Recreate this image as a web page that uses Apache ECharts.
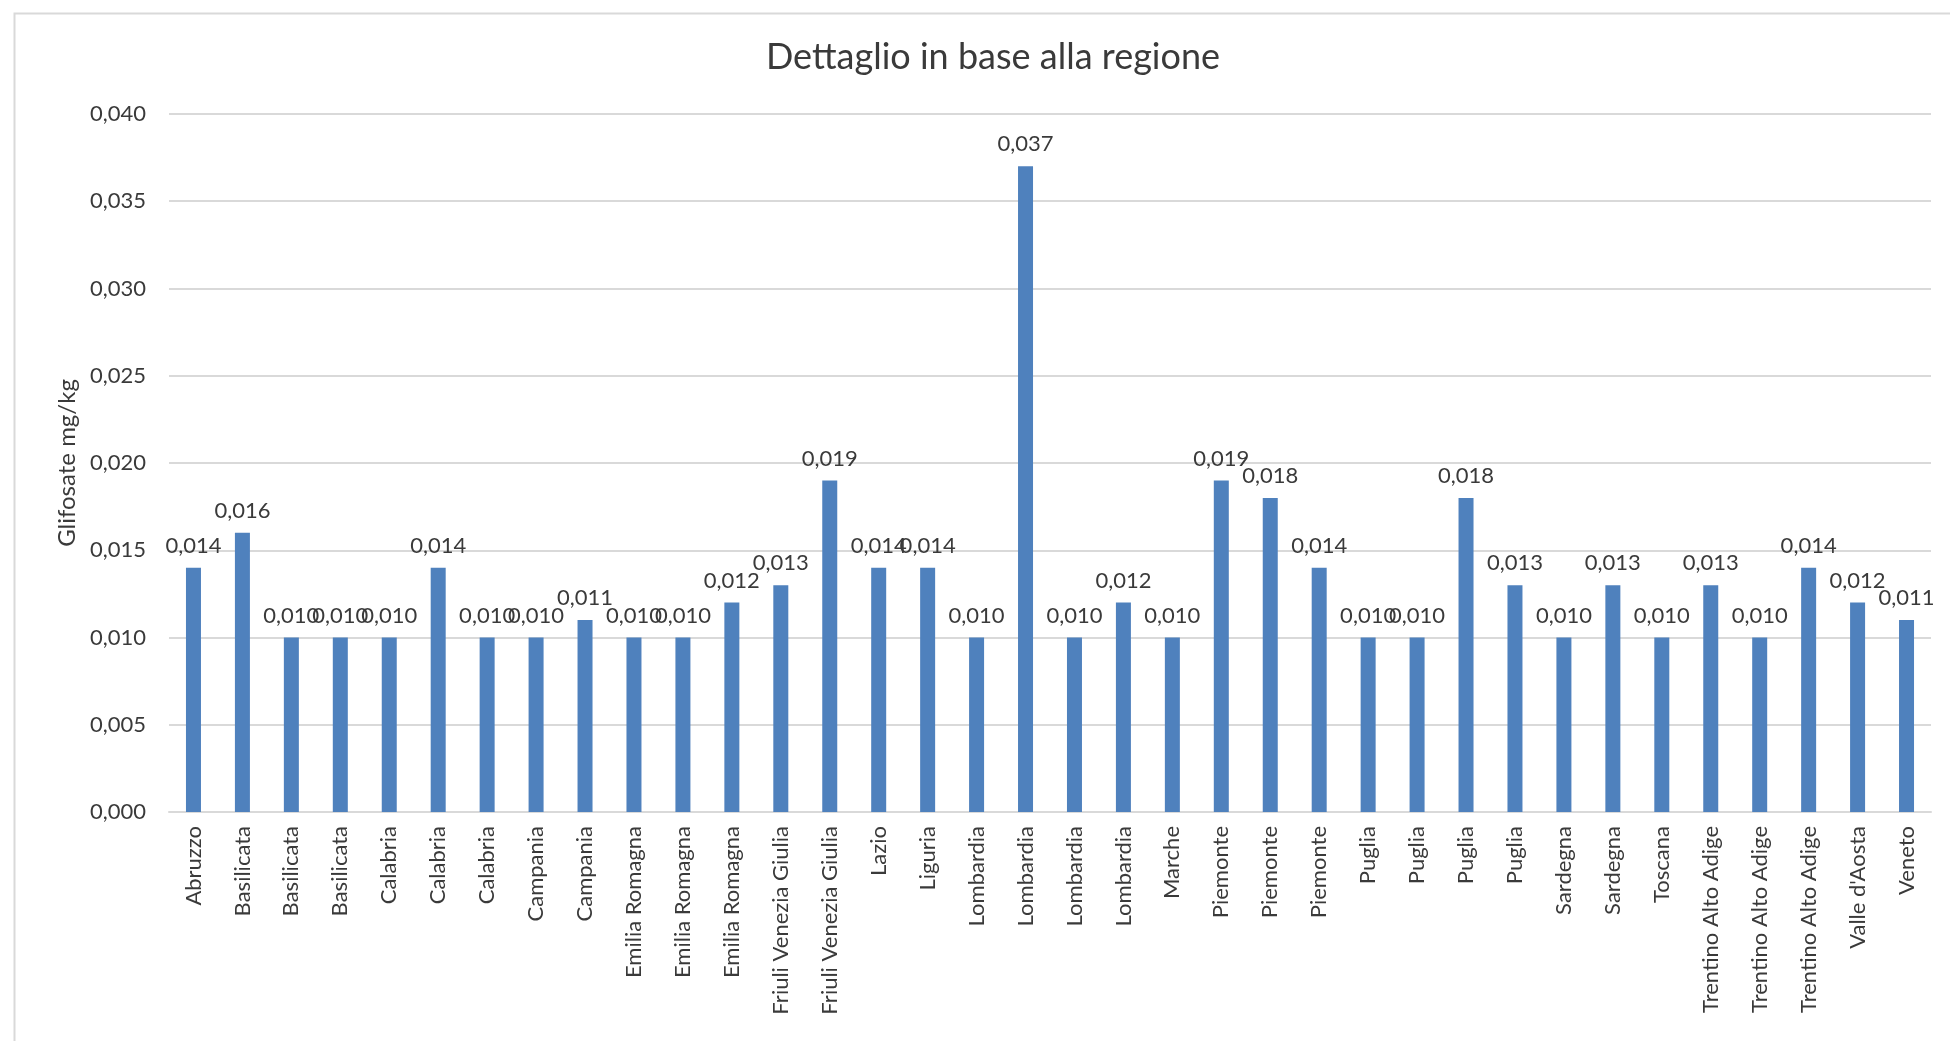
<!DOCTYPE html>
<html>
<head>
<meta charset="utf-8">
<script src="https://cdn.jsdelivr.net/npm/echarts@6/dist/echarts.min.js"></script>
<style>
html,body{margin:0;padding:0;background:#fff;}
#chart{width:1950px;height:1041px;}
</style>
</head>
<body>
<div id="chart"></div>
<script>
const titleText = 'Dettaglio in base alla regione';
const yAxisName = 'Glifosate mg/kg';
const categories = [
  'Abruzzo','Basilicata','Basilicata','Basilicata','Calabria','Calabria','Calabria',
  'Campania','Campania','Emilia Romagna','Emilia Romagna','Emilia Romagna',
  'Friuli Venezia Giulia','Friuli Venezia Giulia','Lazio','Liguria',
  'Lombardia','Lombardia','Lombardia','Lombardia','Marche',
  'Piemonte','Piemonte','Piemonte','Puglia','Puglia','Puglia','Puglia',
  'Sardegna','Sardegna','Toscana','Trentino Alto Adige','Trentino Alto Adige',
  'Trentino Alto Adige',"Valle d'Aosta",'Veneto'
];
const values = [
  0.014,0.016,0.010,0.010,0.010,0.014,0.010,
  0.010,0.011,0.010,0.010,0.012,
  0.013,0.019,0.014,0.014,
  0.010,0.037,0.010,0.012,0.010,
  0.019,0.018,0.014,0.010,0.010,0.018,0.013,
  0.010,0.013,0.010,0.013,0.010,
  0.014,0.012,0.011
];
const yMin = 0, yMax = 0.040, yStep = 0.005;

const fmt = v => v.toFixed(3).replace('.', ',');
const FONT = 'Lato';
const TXT = '#3a3a3a';

const chart = echarts.init(document.getElementById('chart'));
chart.setOption({
  animation: false,
  backgroundColor: '#ffffff',
  graphic: [{
    type: 'rect', left: 12, top: 11, silent: true,
    shape: { width: 2000, height: 1100 },
    style: { fill: 'none', stroke: '#d9d9d9', lineWidth: 2 }
  }],
  title: {
    text: titleText,
    left: 988, top: 34, textAlign: 'center',
    textStyle: { fontFamily: FONT, fontSize: 36, fontWeight: 'normal', color: TXT }
  },
  grid: { left: 169, right: 19, top: 114, bottom: 229, containLabel: false },
  xAxis: {
    type: 'category',
    data: categories,
    axisTick: { show: false },
    axisLine: { lineStyle: { color: '#d9d9d9', width: 2 } },
    axisLabel: {
      interval: 0, rotate: 90, margin: 14,
      fontFamily: FONT, fontSize: 22, color: TXT
    }
  },
  yAxis: {
    type: 'value',
    min: yMin, max: yMax, interval: yStep,
    name: yAxisName,
    nameLocation: 'middle',
    nameGap: 90,
    nameTextStyle: { fontFamily: FONT, fontSize: 24, color: TXT },
    axisLine: { show: false },
    axisTick: { show: false },
    splitLine: { lineStyle: { color: '#d9d9d9', width: 2 } },
    axisLabel: {
      margin: 23, fontFamily: FONT, fontSize: 22, color: TXT,
      formatter: v => fmt(v)
    }
  },
  series: [{
    type: 'bar',
    data: values,
    barWidth: 15,
    itemStyle: { color: '#4f81bd' },
    label: {
      show: true, position: 'top', distance: 11,
      fontFamily: FONT, fontSize: 22, color: TXT,
      formatter: p => fmt(p.value)
    }
  }]
});
</script>
</body>
</html>
